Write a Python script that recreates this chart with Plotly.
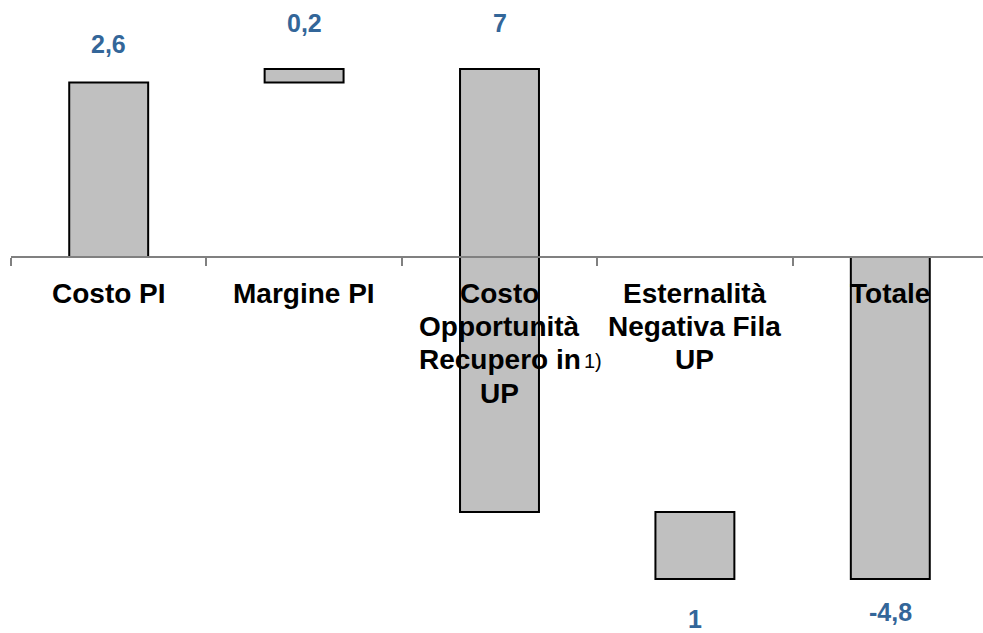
import plotly.graph_objects as go

# ---- data ----
categories = ["Costo PI", "Margine PI", "Costo Opportunità Recupero in UP",
              "Esternalità Negativa Fila UP", "Totale"]
label_lines = [["Costo PI"], ["Margine PI"],
               ["Costo", "Opportunità", "Recupero in", "UP"],
               ["Esternalità", "Negativa Fila", "UP"], ["Totale"]]
values = [2.6, 0.2, -6.6, -1.0, -4.8]
measures = ["relative", "relative", "relative", "relative", "total"]
value_labels = ["2,6", "0,2", "7", "1", "-4,8"]
label_side = ["top", "top", "top", "bottom", "bottom"]
footnote = "1)"

# ---- styling ----
W, H = 983, 633
zero_px = 257.0
px_per_unit = 67.1
y_max = zero_px / px_per_unit
y_min = -(H - zero_px) / px_per_unit
cat_px = 195.5
left_px = 10.5
x_min = -0.5
x_max = x_min + (W - left_px) / cat_px

label_offsets = [39, 46, 46, -40, -33]
FONT = "Liberation Sans, Arial, Helvetica, sans-serif"
BLUE = "#336699"
GREY = "#c0c0c0"

bar_style = dict(marker=dict(color=GREY, line=dict(color="black", width=2)))

fig = go.Figure(go.Waterfall(
    x=categories, y=values, measure=measures,
    width=[0.404] * len(values),
    increasing=bar_style, decreasing=bar_style, totals=bar_style,
    connector=dict(visible=False),
    hoverinfo="skip",
))

# bar ends computed from the data
starts, ends, run = [], [], 0.0
for v, m in zip(values, measures):
    if m == "total":
        s, e = 0.0, v
    else:
        s, e = run, run + v
    run = e
    starts.append(s)
    ends.append(e)

annotations = []
for cat, s, e, lab, side, off in zip(categories, starts, ends, value_labels,
                                     label_side, label_offsets):
    yv = max(s, e) if side == "top" else min(s, e)
    annotations.append(dict(
        x=cat, y=yv, xref="x", yref="y", text=lab, showarrow=False,
        yshift=off, yanchor="middle", xanchor="center",
        font=dict(family=FONT, size=25, color=BLUE, weight="bold")))

line_gap = 33.4
first_line = 36
for cat, lines in zip(categories, label_lines):
    for i, ln in enumerate(lines):
        annotations.append(dict(
            x=cat, y=0, xref="x", yref="y", text=ln, showarrow=False,
            yshift=-(first_line + line_gap * i), yanchor="middle", xanchor="center",
            font=dict(family=FONT, size=28, color="black", weight="bold")))

# footnote marker after "Recupero in"
annotations.append(dict(
    x=categories[2], y=0, xref="x", yref="y", text=footnote, showarrow=False,
    xshift=82, yshift=-(first_line + line_gap * 2) - 1, yanchor="middle", xanchor="left",
    font=dict(family=FONT, size=20, color="black")))

fig.update_layout(
    width=W, height=H,
    margin=dict(l=left_px, r=0, t=0, b=0, pad=0),
    paper_bgcolor="white", plot_bgcolor="white",
    showlegend=False,
    xaxis=dict(range=[x_min, x_max], showgrid=False, zeroline=False,
               showline=True, linecolor="#808080", linewidth=1.5,
               ticks="outside", tickson="boundaries", ticklen=8,
               tickcolor="#808080", tickwidth=1.5,
               showticklabels=False, anchor="free",
               position=(0 - y_min) / (y_max - y_min), fixedrange=True),
    yaxis=dict(range=[y_min, y_max], visible=False, showgrid=False,
               zeroline=False, fixedrange=True),
    annotations=annotations,
)

fig.write_html("out.html", post_script="document.body.style.margin='0';",
               config=dict(displayModeBar=False))
